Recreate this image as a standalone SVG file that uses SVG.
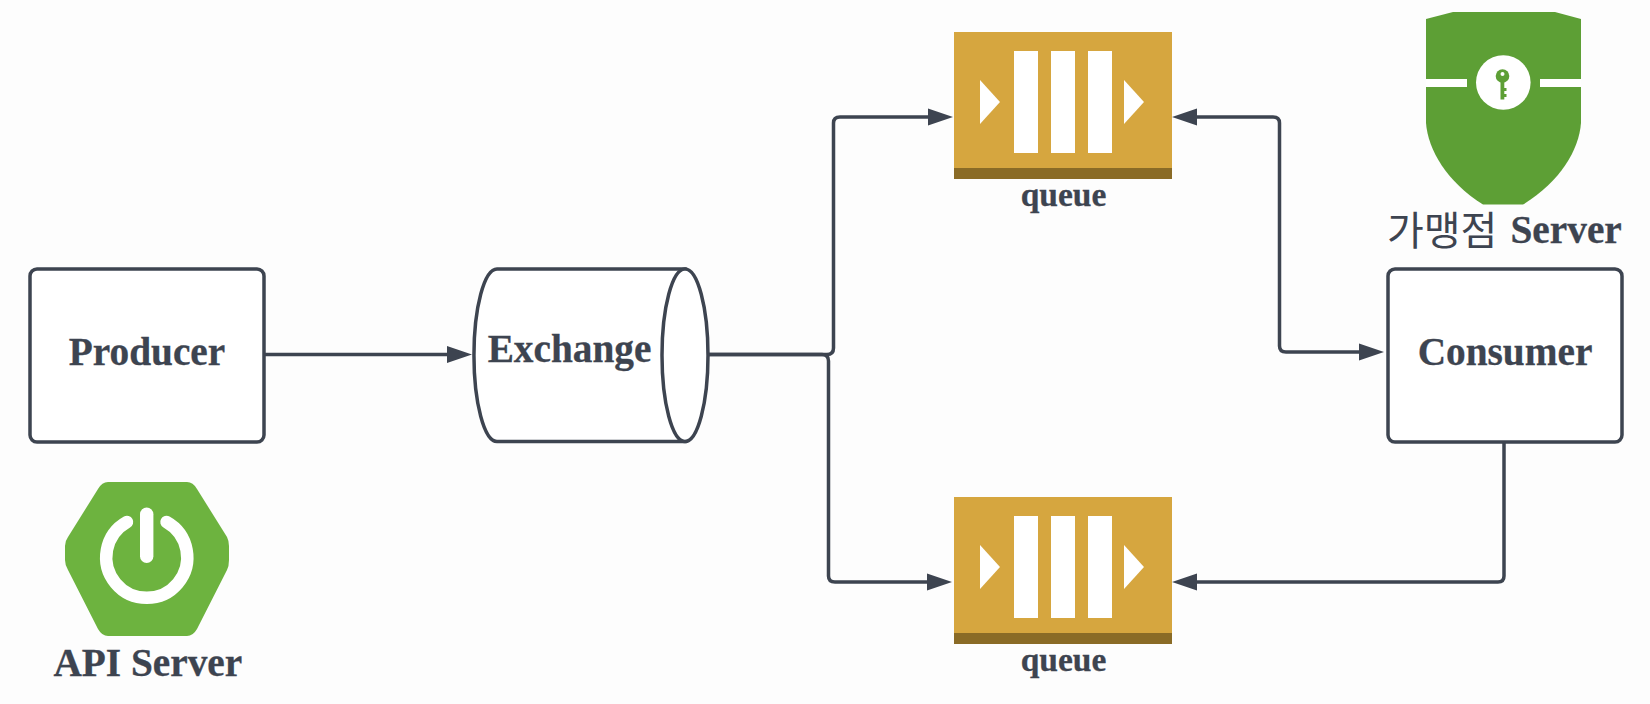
<svg xmlns="http://www.w3.org/2000/svg" width="1650" height="704" viewBox="0 0 1650 704">
<style>
.box{fill:#fff;stroke:#3d4450;stroke-width:3.500}
.conn{fill:none;stroke:#3d4450;stroke-width:3.500}
.lbl{font-family:"Liberation Serif","Noto Sans CJK KR",serif;font-weight:700;fill:#3d4450;stroke:#3d4450;stroke-width:.3;text-anchor:middle}
.big{font-size:39.300px}
.q{font-size:33.500px}
.ko{font-family:"Noto Sans CJK KR",sans-serif;font-weight:400;font-size:40px;stroke:none}
.white{fill:#fff}
</style>
<defs>
<marker id="arrow" markerUnits="userSpaceOnUse" markerWidth="30" markerHeight="20" viewBox="0 0 30 20" refX="3" refY="10" orient="auto-start-reverse">
<path d="M0 1.500 L25 10 L0 18.500 Z" fill="#3d4450"/>
</marker>
<g id="queueIcon">
<rect x="0" y="0" width="218" height="147" fill="#d6a63f"/>
<rect x="0" y="136" width="218" height="11" fill="#8a6b26"/>
<rect class="white" x="60" y="19" width="24" height="102"/>
<rect class="white" x="97" y="19" width="24" height="102"/>
<rect class="white" x="134" y="19" width="24" height="102"/>
<path class="white" d="M26 48 L46 70 L26 92 Z"/>
<path class="white" d="M170 48 L190 70 L170 92 Z"/>
</g>
</defs>
<rect width="1650" height="704" fill="#fdfdfd"/>
<g id="connectors">
<path class="conn" marker-end="url(#arrow)" d="M264 354.500 H450"/>
<path class="conn" marker-end="url(#arrow)" d="M709 354.500 H827 Q833.500 354.500 833.500 348 V123 Q833.500 117 840 117 H931"/>
<path class="conn" marker-end="url(#arrow)" d="M709 354.500 H822 Q828.500 354.500 828.500 361 V576 Q828.500 582 835 582 H930"/>
<path class="conn" marker-start="url(#arrow)" marker-end="url(#arrow)" d="M1194 117 H1273 Q1279.500 117 1279.500 123 V346 Q1279.500 352 1286 352 H1362"/>
<path class="conn" marker-end="url(#arrow)" d="M1504 442 V576 Q1504 582 1498 582 H1194"/>
</g>
<g id="producer">
<rect class="box" x="30" y="269" width="234" height="173" rx="7"/>
<text class="lbl big" x="147" y="365">Producer</text>
</g>
<g id="exchange">
<path class="box" d="M685 269 H497 A23 86 0 0 0 497 441.500 H685 Z"/>
<ellipse class="box" cx="685" cy="355.250" rx="23" ry="86.250"/>
<text class="lbl big" x="569.500" y="362">Exchange</text>
</g>
<g id="consumer">
<rect class="box" x="1388" y="269" width="234" height="173" rx="7"/>
<text class="lbl big" x="1505" y="365">Consumer</text>
</g>
<g id="queue-top">
<use href="#queueIcon" x="954" y="32"/>
<text class="lbl q" x="1063.500" y="206">queue</text>
</g>
<g id="queue-bottom">
<use href="#queueIcon" x="954" y="497"/>
<text class="lbl q" x="1063.500" y="671">queue</text>
</g>
<g id="api-server">
<path d="M108 482 H187 Q193 482 197 489 L227 537 Q229 541 229 546 V560 Q229 566 227 570 L197 629 Q193 636 187 636 H108 Q102 636 98 629 L68 570 Q65 565 65 560 V546 Q65 541 68 537 L98 489 Q102 482 108 482 Z" fill="#6db33f"/>
<path d="M127 522 A40.500 40.500 0 1 0 166.500 522" fill="none" stroke="#fff" stroke-width="12.500" stroke-linecap="round"/>
<rect class="white" x="140" y="507.500" width="13.400" height="55.500" rx="6.700"/>
<text class="lbl big" x="147.800" y="675.700">API Server</text>
</g>
<g id="merchant-server">
<path d="M1426 19 L1453 12 H1555 L1581 19 V123 C1579 150 1560 182 1523 204.500 H1483 C1447 182 1428 150 1426 123 Z" fill="#5d9f35"/>
<rect class="white" x="1426" y="79" width="41" height="8"/>
<rect class="white" x="1540" y="79" width="41" height="8"/>
<circle class="white" cx="1503.300" cy="82.500" r="27.300"/>
<circle cx="1502.500" cy="76" r="6.800" fill="#5d9f35"/>
<path d="M1500.500 80 H1504.300 V88 H1506.500 V91 H1504.300 V94 H1506.500 V97 H1504.300 V99.500 H1500.500 Z" fill="#5d9f35"/>
<circle class="white" cx="1502.500" cy="74" r="2"/>
<text class="lbl big" style="text-anchor:start"><tspan class="ko" x="1387" y="245">가맹점</tspan><tspan x="1510.500" y="243">Server</tspan></text>
</g>
</svg>
